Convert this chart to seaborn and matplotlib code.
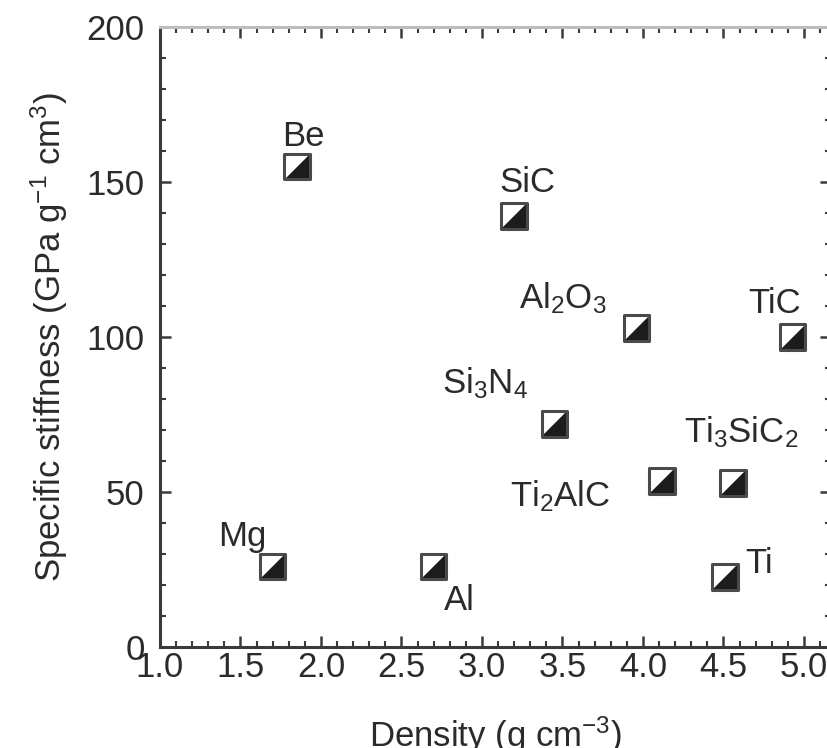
import numpy as np
import pandas as pd
import matplotlib
matplotlib.use("Agg")
import matplotlib.pyplot as plt
import seaborn as sns
from matplotlib.ticker import MultipleLocator
from matplotlib.path import Path

# ---------------------------
# Data
# ---------------------------
materials = ["Be", "SiC", "Al$_2$O$_3$", "TiC", "Si$_3$N$_4$",
             "Ti$_3$SiC$_2$", "Ti$_2$AlC", "Ti", "Al", "Mg"]
density = [1.85, 3.20, 3.96, 4.93, 3.45, 4.56, 4.12, 4.51, 2.70, 1.70]
stiffness = [155, 139, 103, 100, 72, 53, 53.5, 22.5, 26, 26]

# label offsets in pixels (left edge / baseline relative to marker centre)
label_offsets = {
    "Be": (-15, 20), "SiC": (-15, 24), "Al$_2$O$_3$": (-118, 19),
    "TiC": (-44, 24), "Si$_3$N$_4$": (-112, 30), "Ti$_3$SiC$_2$": (-49, 40),
    "Ti$_2$AlC": (-152, -25), "Ti": (20, 4), "Al": (10, -44), "Mg": (-55, 20),
}

df = pd.DataFrame({"material": materials, "density": density, "stiffness": stiffness})

# ---------------------------
# Style
# ---------------------------
sns.set_style("ticks")
plt.rcParams["font.family"] = ["Liberation Sans", "DejaVu Sans"]
plt.rcParams["mathtext.default"] = "regular"
TXT = "#2b2b2b"
FS = 25

fig = plt.figure(figsize=(8.27, 7.48), dpi=100)
# right spine sits just past the picture edge, as in the reference
ax = fig.add_axes([160 / 827, 101 / 748, (831 - 160) / 827, (647 - 27) / 748])

# markers: white square, black lower-right half, dark outline
half = Path([(-1, -1), (1, -1), (1, 1), (-1, -1)],
            [Path.MOVETO, Path.LINETO, Path.LINETO, Path.CLOSEPOLY])
msize = 340
sns.scatterplot(data=df, x="density", y="stiffness", marker="s", s=msize,
                color="white", linewidth=0, ax=ax, zorder=3)
sns.scatterplot(data=df, x="density", y="stiffness", marker=half, s=msize,
                color="#1c1c1c", linewidth=0, ax=ax, zorder=4)
sns.scatterplot(data=df, x="density", y="stiffness", marker="s", s=msize,
                facecolor="none", edgecolor="#4a4a4a", linewidth=2.2, ax=ax, zorder=5)

for name, x, y in zip(materials, density, stiffness):
    dx, dy = label_offsets[name]
    ax.annotate(name, (x, y), xytext=(dx, dy), textcoords="offset pixels",
                ha="left", va="baseline", fontsize=FS, color=TXT)

ax.set_xlim(1.0, 5.168)
ax.set_ylim(0, 200)
ax.xaxis.set_minor_locator(MultipleLocator(0.1))
ax.yaxis.set_major_locator(MultipleLocator(50))
ax.yaxis.set_minor_locator(MultipleLocator(10))
xt = np.arange(1.0, 5.01, 0.5)
ax.set_xticks(xt)
ax.set_xticklabels([f"{v:.1f}" for v in xt])

ax.tick_params(which="both", direction="in", top=True, right=True,
               colors="#3a3a3a", labelcolor=TXT, labelsize=FS)
ax.tick_params(which="major", length=8, width=1.8)
ax.tick_params(which="minor", length=4.5, width=1.5)
ax.tick_params(axis="y", which="major", pad=11)
ax.tick_params(axis="x", which="major", pad=3)

for side in ["left", "bottom", "top", "right"]:
    ax.spines[side].set_color("#3a3a3a")
    ax.spines[side].set_linewidth(2.2)
ax.spines["top"].set_color("#bdbdbd")

ax.set_xlabel("Density (g cm$^{-3}$)", fontsize=FS, color=TXT, labelpad=22)
ax.set_ylabel("Specific stiffness (GPa g$^{-1}$ cm$^3$)", fontsize=FS, color=TXT, labelpad=12)

fig.savefig("out.png", dpi=100)
